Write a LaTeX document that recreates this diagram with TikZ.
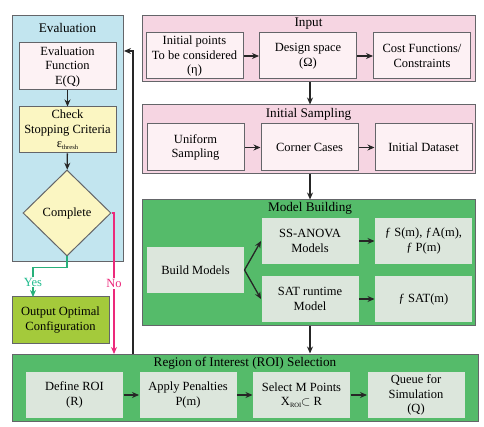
\documentclass[tikz,border=0pt]{standalone}
\usepackage{fontspec}
\setmainfont{Liberation Serif}
\usepackage{tikz}
\usetikzlibrary{arrows.meta}
\usetikzlibrary{shapes.geometric}
\definecolor{edgegray}{HTML}{646569}
\definecolor{evalblue}{HTML}{C2E5EF}
\definecolor{evalpink}{HTML}{FDF2F4}
\definecolor{checkyellow}{HTML}{FBF6C2}
\definecolor{outgreen}{HTML}{A4CA3B}
\definecolor{inpink}{HTML}{F6D5E2}
\definecolor{inbox}{HTML}{FDF1F4}
\definecolor{modgreen}{HTML}{55BB6A}
\definecolor{modbox}{HTML}{DCE6DC}
\definecolor{nopink}{HTML}{EC297B}
\definecolor{yesgreen}{HTML}{27B07A}
\newcommand{\subtiny}[1]{\raisebox{-2pt}{\fontsize{6.5}{6.5}\selectfont #1}}

\begin{document}
\begin{tikzpicture}[x=1pt, y=-1pt,
    every node/.style={font=\rmfamily\fontsize{12.5}{14.5}\selectfont, align=center},
    panel/.style={draw=edgegray, line width=1pt, inner sep=0pt},
    paneltitle/.style={font=\rmfamily\fontsize{13.2}{15}\selectfont, inner sep=0pt},
    box/.style={draw=edgegray, line width=1pt, minimum width=97pt, minimum height=46pt, inner sep=1pt},
    arr/.style={-{Stealth[length=7pt,width=6pt]}, line width=1.3pt, draw=black!85}]
	\useasboundingbox (0,0) rectangle (484,427);

	% Panels
	\node[panel, fill=evalblue, minimum width=111pt, minimum height=246pt] (eval) at (67.5,139) {};
	\node[panel, fill=inpink, minimum width=333pt, minimum height=66pt] (input) at (308.5,49) {};
	\node[panel, fill=inpink, minimum width=333pt, minimum height=69pt] (sampling) at (308.5,139.5) {};
	\node[panel, fill=modgreen, minimum width=333pt, minimum height=125pt] (model) at (308.5,262.5) {};
	\node[panel, fill=modgreen, minimum width=466pt, minimum height=67pt] (roi) at (245,387.5) {};

	\node[paneltitle] (evaltitle) at (67.5,28) {Evaluation};
	\node[paneltitle] (intitle) at (308.5,23.5) {Input};
	\node[paneltitle] (satitle) at (308.5,114) {Initial Sampling};
	\node[paneltitle] (modtitle) at (310,208) {Model Building};
	\node[paneltitle] (roititle) at (245,363) {Region of Interest (ROI) Selection};

	% Evaluation loop
	\node[box, fill=evalpink, minimum height=47pt] (evalfn) at (67.5,66.5) {Evaluation\\Function\\E(Q)};
	\node[box, fill=checkyellow] (check) at (67.5,130) {Check\\Stopping Criteria\\ε\subtiny{thresh}};
	\node[diamond, draw=edgegray, line width=1pt, fill=checkyellow, inner sep=0pt,
		minimum width=88pt, minimum height=86pt] (done) at (67,213) {Complete};
	\node[box, fill=outgreen] (output) at (60.5,320) {Output Optimal\\Configuration};

	% Input
	\node[box, fill=inbox] (points) at (194.5,56) {Initial points\\To be considered\\(η)};
	\node[box, fill=inbox] (space) at (308,56) {Design space\\(Ω)};
	\node[box, fill=inbox] (cost) at (422,56) {Cost Functions/\\Constraints};

	% Initial sampling
	\node[box, fill=inbox, minimum height=47pt] (uniform) at (195.5,147.5) {Uniform\\Sampling};
	\node[box, fill=inbox, minimum height=47pt] (corner) at (309.5,147.5) {Corner Cases};
	\node[box, fill=inbox, minimum height=47pt] (dataset) at (423.5,147.5) {Initial Dataset};

	% Model building
	\node[box, draw=none, fill=modbox] (build) at (195.5,270) {Build Models};
	\node[box, draw=none, fill=modbox] (anova) at (310,241) {SS-ANOVA\\Models};
	\node[box, draw=none, fill=modbox] (satrt) at (310,299) {SAT runtime\\Model};
	\node[box, draw=none, fill=modbox] (fsap) at (423.5,241) {ƒ S(m), ƒA(m),\\ƒ P(m)};
	\node[box, draw=none, fill=modbox] (fsat) at (423.5,299) {ƒ SAT(m)};

	% ROI selection
	\node[box, draw=none, fill=modbox] (define) at (74.5,395) {Define ROI\\(R)};
	\node[box, draw=none, fill=modbox] (penalty) at (188,395) {Apply Penalties\\P(m)};
	\node[box, draw=none, fill=modbox] (select) at (301.5,395) {Select M Points\\X\subtiny{ROI}$\subset$ R};
	\node[box, draw=none, fill=modbox] (queue) at (416,395) {Queue for\\Simulation\\(Q)};

	% Connectors
	\draw[arr] (points) -- (space);
	\draw[arr] (space) -- (cost);
	\draw[arr] ([xshift=1.5pt]input.south) -- ([xshift=1.5pt]sampling.north);
	\draw[arr] (uniform) -- (corner);
	\draw[arr] (corner) -- (dataset);
	\draw[arr] ([xshift=1.5pt]sampling.south) -- ([xshift=1.5pt]model.north);
	\draw[arr] (build.east) -- (anova.west);
	\draw[arr] (build.east) -- (satrt.west);
	\draw[arr] (anova) -- (fsap);
	\draw[arr] (satrt) -- (fsat);
	\draw[arr] ([xshift=1.5pt]model.south) -- ([xshift=1.5pt]model.south |- roi.north);
	\draw[arr] (define) -- (penalty);
	\draw[arr] (penalty) -- (select);
	\draw[arr] (select) -- (queue);

	\coordinate (fbstart) at (133,354);
	\coordinate (fbend) at (124,51);
	\draw[arr] (fbstart) |- (fbend);
	\draw[arr] (evalfn) -- (check);
	\draw[arr] (check) -- (done);

	\coordinate (noend) at (114,354);
	\draw[arr, draw=nopink, line width=1.2pt] (done.east) -| (noend)
		node[pos=0.75, fill=white, inner sep=1pt, text=nopink] {No};
	\coordinate (yesend) at (33,297);
	\draw[arr, draw=yesgreen, line width=1.2pt] (done.south) -- ++(0,11) -| (yesend)
		node[pos=0.75, fill=white, inner sep=1pt, text=yesgreen!85!cyan] {Yes};
\end{tikzpicture}
\end{document}
